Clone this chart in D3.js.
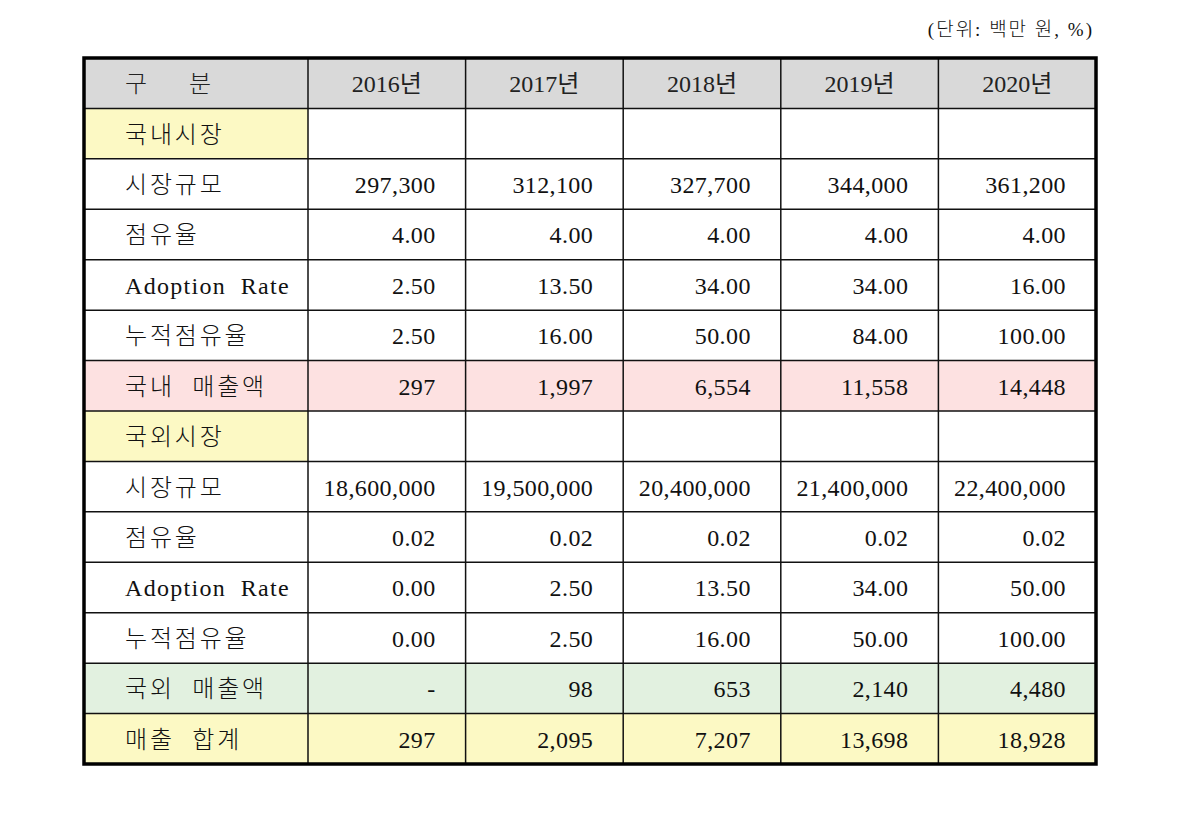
<!DOCTYPE html>
<html>
<head>
    <meta charset="utf-8">
    <title>매출 추정표</title>
    <script src="https://cdn.jsdelivr.net/npm/d3@7"></script>
    <style>
      body { margin: 0; background: #fff; }
      text { white-space: pre; }
    </style>
</head>
<body>
<script type="text/javascript">

// ---- data ----
var years = [2016, 2017, 2018, 2019, 2020];

var domSize     = [297300, 312100, 327700, 344000, 361200];
var domShare    = [4.00, 4.00, 4.00, 4.00, 4.00];
var domAdoption = [2.50, 13.50, 34.00, 34.00, 16.00];
var domCum      = [2.50, 16.00, 50.00, 84.00, 100.00];
var domSales    = [297, 1997, 6554, 11558, 14448];

var forSize     = [18600000, 19500000, 20400000, 21400000, 22400000];
var forShare    = [0.02, 0.02, 0.02, 0.02, 0.02];
var forAdoption = [0.00, 2.50, 13.50, 34.00, 50.00];
var forCum      = [0.00, 2.50, 16.00, 50.00, 100.00];
var forSales    = [0, 98, 653, 2140, 4480];

var totalSales  = [297, 2095, 7207, 13698, 18928];

var unitLabel = "(단위: 백만 원, %)";

var comma = d3.format(",");
var pct = d3.format(".2f");
var money = function(v){ return v === 0 ? "-" : comma(v) };

// rows: label, values, formatter, fill (whole row / label only)
var rows = [
    {label: "국내시장", values: null, fillLabel: "#fcf9c4"},
    {label: "시장규모", values: domSize, fmt: comma},
    {label: "점유율", values: domShare, fmt: pct},
    {label: "Adoption  Rate", values: domAdoption, fmt: pct, latin: true},
    {label: "누적점유율", values: domCum, fmt: pct},
    {label: "국내  매출액", values: domSales, fmt: money, fill: "#fde1e1"},
    {label: "국외시장", values: null, fillLabel: "#fcf9c4"},
    {label: "시장규모", values: forSize, fmt: comma},
    {label: "점유율", values: forShare, fmt: pct},
    {label: "Adoption  Rate", values: forAdoption, fmt: pct, latin: true},
    {label: "누적점유율", values: forCum, fmt: pct},
    {label: "국외  매출액", values: forSales, fmt: money, fill: "#e2f1e0"},
    {label: "매출  합계", values: totalSales, fmt: money, fill: "#fcf9c4"}
];

// ---- layout ----
var width = 1178, height = 814;
var tLeft = 84, tRight = 1096, tTop = 58, tBottom = 764;
var labelColW = 224;

var svg = d3.select("body").append("svg")
    .attr("width", width).attr("height", height);

var y = d3.scaleBand()
    .domain(d3.range(rows.length + 1))
    .range([tTop, tBottom]);

var x = d3.scaleBand()
    .domain(years)
    .range([tLeft + labelColW, tRight]);

var serif = "'Liberation Serif', 'Noto Sans CJK KR', serif";

// unit note
svg.append("text")
    .attr("x", 1094).attr("y", 29)
    .attr("text-anchor", "end")
    .attr("dominant-baseline", "central")
    .attr("font-family", serif)
    .attr("font-size", 19)
    .attr("font-weight", 300)
    .attr("letter-spacing", 2)
    .attr("fill", "#111")
    .text(unitLabel);

// header row
var header = svg.append("g");
header.append("rect")
    .attr("x", tLeft).attr("y", y(0))
    .attr("width", tRight - tLeft).attr("height", y.bandwidth())
    .attr("fill", "#d9d9d9");

header.append("text")
    .attr("x", tLeft + 41).attr("y", y(0) + y.bandwidth() / 2 + 1)
    .attr("dominant-baseline", "central")
    .attr("font-family", serif).attr("font-size", 24)
    .attr("font-weight", 300)
    .attr("letter-spacing", 2)
    .attr("fill", "#222")
    .text("구     분");

header.selectAll("text.year")
    .data(years)
    .enter().append("text")
    .attr("class", "year")
    .attr("x", function(d){ return x(d) + x.bandwidth() / 2 })
    .attr("y", y(0) + y.bandwidth() / 2 + 1)
    .attr("text-anchor", "middle")
    .attr("dominant-baseline", "central")
    .attr("font-family", serif).attr("font-size", 24)
    .attr("fill", "#222")
    .text(function(d){ return d + "년" });

// body rows
var rowG = svg.selectAll("g.row")
    .data(rows)
    .enter().append("g")
    .attr("class", "row")
    .attr("transform", function(d, i){ return "translate(0," + y(i + 1) + ")" });

rowG.filter(function(d){ return d.fill })
    .append("rect")
    .attr("x", tLeft).attr("width", tRight - tLeft)
    .attr("height", y.bandwidth())
    .attr("fill", function(d){ return d.fill });

rowG.filter(function(d){ return d.fillLabel })
    .append("rect")
    .attr("x", tLeft).attr("width", labelColW)
    .attr("height", y.bandwidth())
    .attr("fill", function(d){ return d.fillLabel });

rowG.append("text")
    .attr("x", tLeft + 41)
    .attr("y", y.bandwidth() / 2 + 1)
    .attr("dominant-baseline", "central")
    .attr("font-family", serif)
    .attr("font-size", 24)
    .attr("font-weight", function(d){ return d.latin ? 400 : 300 })
    .attr("letter-spacing", function(d){ return d.latin ? 1.3 : 2.8 })
    .attr("fill", "#111")
    .text(function(d){ return d.label });

rowG.filter(function(d){ return d.values })
    .selectAll("text.val")
    .data(function(d){ return d.values.map(function(v, j){ return {v: v, year: years[j], fmt: d.fmt} }) })
    .enter().append("text")
    .attr("class", "val")
    .attr("x", function(d){ return x(d.year) + x.bandwidth() - 30 })
    .attr("y", y.bandwidth() / 2 + 1)
    .attr("text-anchor", "end")
    .attr("dominant-baseline", "central")
    .attr("font-family", serif)
    .attr("font-size", 24)
    .attr("letter-spacing", 0.4)
    .attr("fill", "#111")
    .text(function(d){ return d.fmt(d.v) });

// grid lines
var grid = svg.append("g").attr("stroke", "#111").attr("stroke-width", 1.5);

grid.selectAll("line.h")
    .data(d3.range(1, rows.length + 1))
    .enter().append("line")
    .attr("x1", tLeft).attr("x2", tRight)
    .attr("y1", function(i){ return y(i) })
    .attr("y2", function(i){ return y(i) });

grid.selectAll("line.v")
    .data(years)
    .enter().append("line")
    .attr("x1", function(d){ return x(d) })
    .attr("x2", function(d){ return x(d) })
    .attr("y1", tTop).attr("y2", tBottom);

// outer border
svg.append("rect")
    .attr("x", tLeft).attr("y", tTop)
    .attr("width", tRight - tLeft).attr("height", tBottom - tTop)
    .attr("fill", "none")
    .attr("stroke", "#000")
    .attr("stroke-width", 3.5);

</script>
</body>
</html>
